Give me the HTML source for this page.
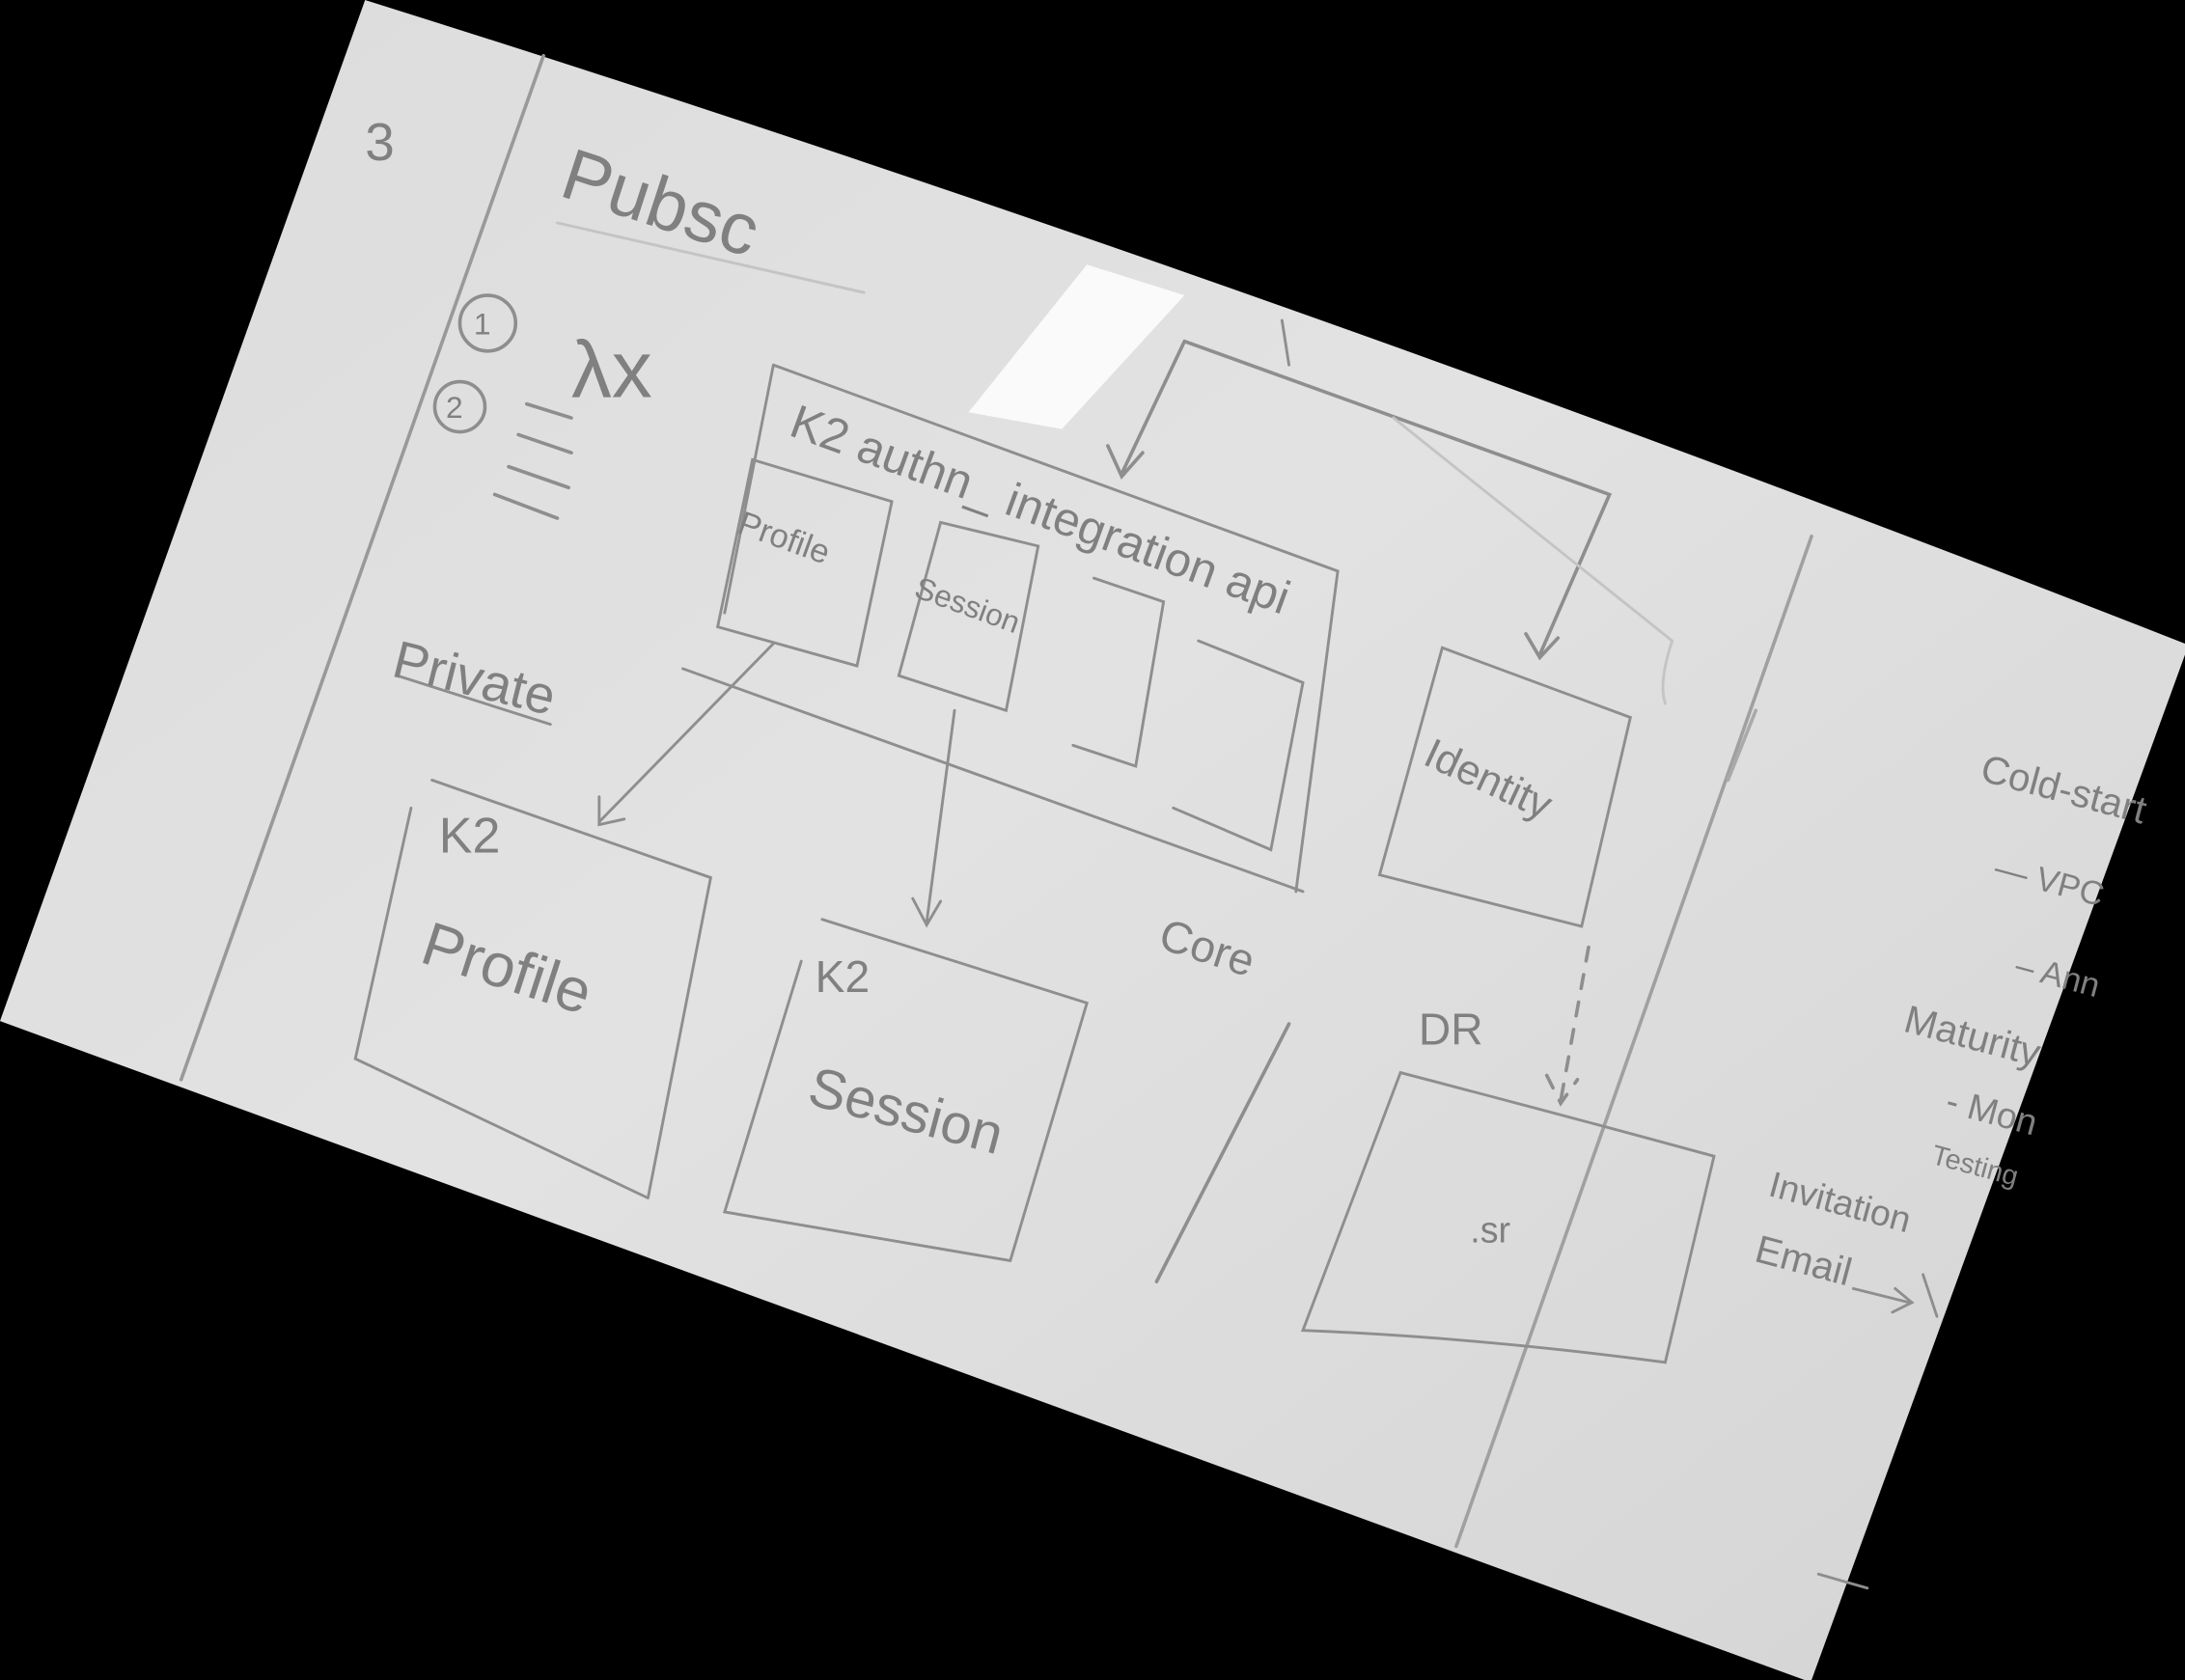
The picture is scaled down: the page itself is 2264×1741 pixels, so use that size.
<!DOCTYPE html>
<html><head><meta charset="utf-8"><style>
html,body{margin:0;padding:0;background:#000;width:2264px;height:1741px;overflow:hidden}
svg{display:block}
text{font-family:"Liberation Sans",sans-serif;fill:#808080}
</style></head><body>
<svg width="2264" height="1741" viewBox="0 0 1568 1206" preserveAspectRatio="none">
<defs>
<linearGradient id="g" x1="0" y1="0" x2="1" y2="1">
<stop offset="0" stop-color="#dcdcdc"/><stop offset="0.45" stop-color="#e2e2e2"/><stop offset="1" stop-color="#d4d4d4"/>
</linearGradient>
</defs>
<rect width="1568" height="1206" fill="#000"/>
<path d="M262,0 Q900,200 1568,462 L1568,470 L1300,1206 L1295,1206 L0,733 Z" fill="url(#g)"/>
<polygon points="780,190 850,212 762,308 695,296" fill="#fafafa"/>
<g stroke="#8e8e8e" stroke-width="2.5" fill="none" stroke-linecap="round">
<path d="M390,40 L130,775" stroke="#999"/>
<path d="M1300,385 L1045,1110" stroke="#a0a0a0"/>
<path d="M1260,510 L1240,560" stroke="#aaa"/>
<circle cx="350" cy="232" r="20"/><circle cx="330" cy="292" r="18"/>
<path d="M378,290 L410,300 M372,312 L410,325 M365,335 L408,350 M355,355 L400,372"/>
<path d="M285,485 L395,520" stroke-width="2"/>
<path d="M555,262 L520,440 M555,262 L960,410 L930,640 M490,480 L935,640" stroke-width="2"/>
<path d="M540,330 L640,360 L615,478 L515,450 Z" stroke-width="2"/>
<path d="M675,375 L745,392 L722,510 L645,485 Z" stroke-width="2"/>
<path d="M785,415 L835,432 L815,550 L770,535" stroke-width="2"/>
<path d="M860,460 L935,490 L912,610 L842,580" stroke-width="2"/>
<path d="M1035,465 L1170,515 L1135,665 L990,628 Z" stroke-width="2"/>
<path d="M850,245 L1155,355 L1105,470 M850,245 L805,340 M795,320 L805,342 L820,325 M1095,455 L1105,472 L1118,458"/>
<path d="M920,230 L925,262" stroke-width="2"/>
<path d="M555,462 L430,590 M430,572 L430,592 L448,588" stroke-width="2"/>
<path d="M685,510 L665,662 M655,645 L665,664 L675,647" stroke-width="2"/>
<path d="M310,560 L510,630 L465,860 M295,580 L255,760 L465,860" stroke-width="2"/>
<path d="M590,660 L780,720 L725,905 M575,690 L520,870 L725,905" stroke-width="2"/>
<path d="M925,735 L830,920" stroke-width="2.5"/>
<path d="M1005,770 Q1120,800 1230,830 L1195,978 Q1060,960 935,955 Z" stroke-width="2"/>
<path d="M1140,680 L1120,790 M1110,772 L1120,792 L1132,775" stroke-dasharray="10,10"/>
<path d="M1330,925 L1370,935 M1360,925 L1372,935 L1358,942" stroke-width="2"/>
<path d="M1305,1130 L1340,1140 M1380,915 L1390,945" stroke-width="2"/>
<path d="M400,160 L620,210 M1000,300 L1200,460 Q1190,490 1195,505" stroke="#c4c4c4" stroke-width="2"/>
</g>
<g font-size="40">
<text x="400" y="140" transform="rotate(18 400 140)" font-size="52">Pubsc</text>
<text x="262" y="115" font-size="38">3</text>
<text x="340" y="240" font-size="22">1</text>
<text x="320" y="300" font-size="22">2</text>
<text x="410" y="285" font-size="58">λx</text>
<text x="280" y="485" transform="rotate(14 280 485)" font-size="38">Private</text>
<text x="565" y="312" transform="rotate(20 565 312)" font-size="34">K2 authn_ integration api</text>
<text x="528" y="382" transform="rotate(20 528 382)" font-size="24">Profile</text>
<text x="655" y="428" transform="rotate(20 655 428)" font-size="22">Session</text>
<text x="1020" y="548" transform="rotate(25 1020 548)" font-size="30">Identity</text>
<text x="315" y="612" font-size="36">K2</text>
<text x="300" y="690" transform="rotate(18 300 690)" font-size="44">Profile</text>
<text x="585" y="712" font-size="32">K2</text>
<text x="578" y="792" transform="rotate(15 578 792)" font-size="40">Session</text>
<text x="830" y="680" transform="rotate(18 830 680)" font-size="32">Core</text>
<text x="1018" y="750" font-size="32">DR</text>
<text x="1055" y="892" font-size="26">.sr</text>
<text x="1420" y="560" transform="rotate(15 1420 560)" font-size="28">Cold-start</text>
<text x="1430" y="630" transform="rotate(15 1430 630)" font-size="24">— VPC</text>
<text x="1445" y="700" transform="rotate(15 1445 700)" font-size="24">– Ann</text>
<text x="1365" y="740" transform="rotate(15 1365 740)" font-size="28">Maturity</text>
<text x="1395" y="798" transform="rotate(15 1395 798)" font-size="26">- Mon</text>
<text x="1385" y="835" transform="rotate(15 1385 835)" font-size="20">Testing</text>
<text x="1268" y="858" transform="rotate(15 1268 858)" font-size="26">Invitation</text>
<text x="1258" y="905" transform="rotate(15 1258 905)" font-size="28">Email</text>
</g>
</svg>
</body></html>
